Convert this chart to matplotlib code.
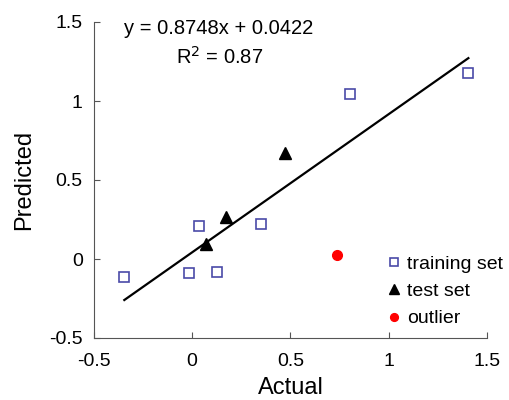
import numpy as np
import matplotlib.pyplot as plt

plt.rcParams['font.family'] = ['Liberation Sans', 'DejaVu Sans']

# training set
train_actual = [-0.347, -0.015, 0.034, 0.124, 0.348, 0.802, 1.404]
train_pred = [-0.112, -0.087, 0.211, -0.080, 0.220, 1.042, 1.180]
# test set
test_actual = [0.073, 0.170, 0.470]
test_pred = [0.093, 0.264, 0.673]
# outlier
out_actual = [0.738]
out_pred = [0.025]

slope, intercept = 0.8748, 0.0422
fit_x = np.array([-0.345, 1.405])

fig = plt.figure(figsize=(5.1, 4.0), dpi=100)
ax = fig.add_axes([0.184, 0.155, 0.771, 0.79])

ax.plot(fit_x, slope * fit_x + intercept, color='black', lw=1.6, zorder=1)
ax.plot(train_actual, train_pred, 's', ms=7, mfc='none', mec='#4a4aa8', mew=1.2,
        ls='none', label='training set', zorder=2)
ax.plot(test_actual, test_pred, '^', ms=9, color='black', ls='none',
        label='test set', zorder=2)
ax.plot(out_actual, out_pred, 'o', ms=7, color='red', ls='none',
        label='outlier', zorder=2)

ax.text(0.136, 1.46, 'y = 0.8748x + 0.0422', ha='center', va='center', fontsize=14.5)
ax.text(0.14, 1.28, 'R$^2$ = 0.87', ha='center', va='center', fontsize=14.5)

ax.set_xlim(-0.5, 1.5)
ax.set_ylim(-0.5, 1.5)
ax.set_xticks([-0.5, 0, 0.5, 1, 1.5])
ax.set_yticks([-0.5, 0, 0.5, 1, 1.5])
ax.set_xticklabels(['-0.5', '0', '0.5', '1', '1.5'])
ax.set_yticklabels(['-0.5', '0', '0.5', '1', '1.5'])
ax.tick_params(direction='in', labelsize=14, length=4, color='#555555')
ax.tick_params(axis='x', pad=10.5)
ax.tick_params(axis='y', pad=8)
ax.spines['top'].set_visible(False)
ax.spines['right'].set_visible(False)
for s in ('left', 'bottom'):
    ax.spines[s].set_color('#555555')
ax.set_xlabel('Actual', fontsize=17, labelpad=5)
ax.set_ylabel('Predicted', fontsize=17, labelpad=10)

ax.legend(loc='upper left', bbox_to_anchor=(0.748, 0.262), frameon=False, fontsize=14,
          handlelength=0.6, handletextpad=0.4, labelspacing=0.5, markerscale=0.8,
          borderaxespad=0, borderpad=0)

fig.savefig('out.png', dpi=100)
